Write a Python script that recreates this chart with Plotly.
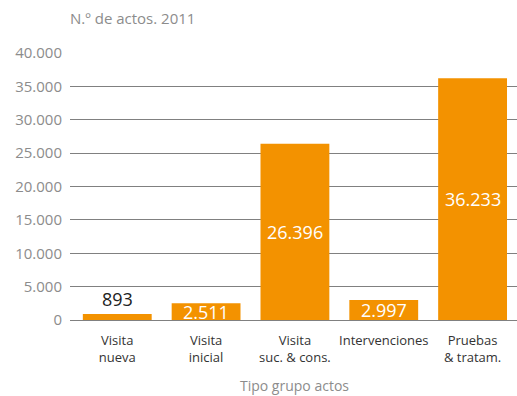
import plotly.graph_objects as go

categorias = ["Visita<br>nueva", "Visita<br>inicial", "Visita<br>suc. & cons.",
              "Intervenciones", "Pruebas<br>& tratam."]
actos = [893, 2511, 26396, 2997, 36233]
ticks_y = [0, 5000, 10000, 15000, 20000, 25000, 30000, 35000, 40000]

NARANJA = "#F39200"
GRIS = "#8c8c8c"
FUENTE = "Open Sans"


def miles(v):
    return f"{v:,}".replace(",", ".")


fig = go.Figure()
fig.add_trace(go.Bar(
    x=list(range(len(categorias))),
    y=actos,
    marker=dict(color=NARANJA, line=dict(width=0)),
    width=0.775,
    hoverinfo="skip",
))

# value labels: small bars get the label above, the rest centred inside
for i, v in enumerate(actos):
    if v < 2000:
        fig.add_annotation(x=i, y=v, text=miles(v), showarrow=False,
                           yanchor="bottom", yshift=1,
                           font=dict(family=FUENTE, size=18, color="#222222"))
    else:
        fig.add_annotation(x=i, y=v / 2, text=miles(v), showarrow=False,
                           yanchor="middle",
                           font=dict(family=FUENTE, size=18, color="white"))

fig.add_annotation(xref="paper", yref="paper", x=-0.005, y=1.0, yshift=35,
                   xanchor="left", yanchor="middle", showarrow=False,
                   text="N.º de actos. 2011",
                   font=dict(family=FUENTE, size=15, color=GRIS))
fig.add_annotation(xref="x", yref="paper", x=2, y=0, yshift=-65,
                   xanchor="center", yanchor="middle", showarrow=False,
                   text="Tipo grupo actos",
                   font=dict(family=FUENTE, size=14, color=GRIS))

fig.update_layout(
    width=517, height=396,
    margin=dict(l=70, r=0, t=53, b=76),
    paper_bgcolor="white", plot_bgcolor="white",
    separators=",.",
    showlegend=False,
    bargap=0.225,
    xaxis=dict(
        tickmode="array",
        tickvals=list(range(len(categorias))),
        ticktext=categorias,
        range=[-0.532, 4.5],
        showgrid=False, zeroline=False, showline=False,
        ticks="", ticklabelstandoff=11,
        tickfont=dict(family=FUENTE, size=13, color="#333333"),
    ),
    yaxis=dict(
        range=[0, 40000],
        tickmode="array", tickvals=ticks_y,
        tickformat=",d",
        showgrid=True, gridcolor="#808080", gridwidth=1,
        zeroline=True, zerolinecolor="#808080", zerolinewidth=1,
        showline=False, ticks="", ticklabelstandoff=7,
        tickfont=dict(family=FUENTE, size=15, color=GRIS),
    ),
)

fig.write_html("out.html")
